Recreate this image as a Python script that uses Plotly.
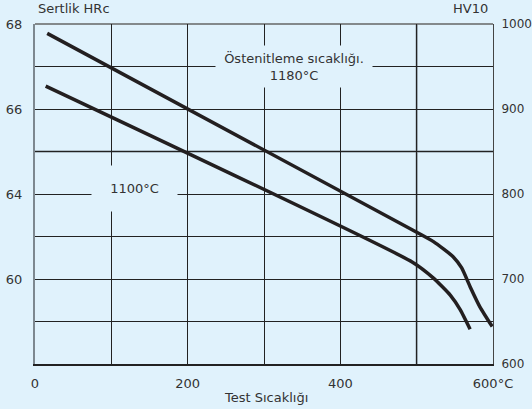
import plotly.graph_objects as go

# Data (x: test temperature °C, y: hardness HV10)
x_1180 = [16, 494, 522, 548, 559, 570, 583, 599]
y_1180 = [989, 758, 744, 726, 713, 691, 667, 644]
x_1100 = [14, 494, 522, 544, 557, 570]
y_1100 = [927, 720, 701, 681, 664, 641]

x_ticks = [0, 100, 200, 300, 400, 500, 600]
x_ticktext = ["0", "", "200", "", "400", "", "600°C"]
y_ticks = [600, 650, 700, 750, 800, 850, 900, 950, 1000]
hrc_ticktext = ["", "", "60", "", "64", "", "66", "", "68"]
hv_ticks = [600, 700, 800, 900, 1000]
hv_ticktext = ["600", "700", "800", "900", "1000"]

BG = "#e0f2fc"
INK = "#231f20"
TXT = "#333333"
GRID = "#222222"
GRAY = "#7d8890"
FONT = "DejaVu Sans"

fig = go.Figure()
line_style = dict(color=INK, width=3.5, shape="spline", smoothing=0.5)
fig.add_trace(go.Scatter(x=x_1180, y=y_1180, mode="lines", line=line_style,
                         showlegend=False, hoverinfo="skip"))
fig.add_trace(go.Scatter(x=x_1100, y=y_1100, mode="lines", line=line_style,
                         showlegend=False, hoverinfo="skip"))
# invisible trace to activate right axis
fig.add_trace(go.Scatter(x=[None], y=[None], yaxis="y2", showlegend=False))

fig.update_layout(
    width=532, height=409,
    margin=dict(l=35, r=39, t=24, b=45),
    paper_bgcolor=BG, plot_bgcolor=BG,
    font=dict(family=FONT, size=13, color=TXT),
    xaxis=dict(range=[0, 600], tickvals=x_ticks, ticktext=x_ticktext,
               showgrid=True, gridcolor=GRID, gridwidth=1, zeroline=False,
               showline=True, linecolor=GRID, linewidth=2, ticks="",
               ticklabelstandoff=6, automargin=False),
    yaxis=dict(range=[600, 1000], tickvals=y_ticks, ticktext=hrc_ticktext,
               showgrid=True, gridcolor=GRID, gridwidth=1, zeroline=False,
               showline=True, linecolor=GRAY, linewidth=2, ticks="",
               ticklabelstandoff=8, automargin=False),
    yaxis2=dict(range=[600, 1000], tickvals=hv_ticks, ticktext=hv_ticktext,
                overlaying="y", side="right", showgrid=False, zeroline=False,
                showline=True, linecolor="#444444", linewidth=1, ticks="",
                ticklabelstandoff=5, automargin=False,
                tickfont=dict(size=12)),
    shapes=[
        dict(type="line", xref="x", yref="paper", x0=500, x1=500, y0=0, y1=1,
             line=dict(color=GRAY, width=2), layer="between"),
        dict(type="line", xref="paper", yref="y", x0=0, x1=1, y0=850, y1=850,
             line=dict(color=GRAY, width=2), layer="between"),
        dict(type="line", xref="paper", yref="paper", x0=0, x1=1, y0=1, y1=1,
             line=dict(color="#666666", width=1.5), layer="between"),
    ],
    annotations=[
        dict(text="Östenitleme sıcaklığı.<br>1180°C", xref="x", yref="y",
             x=339, y=950, showarrow=False, bgcolor=BG, borderpad=0,
             width=156, height=41, font=dict(size=13, color=TXT)),
        dict(text="1100°C", xref="x", yref="y", x=130, y=806, showarrow=False,
             bgcolor=BG, borderpad=0, width=85, height=45,
             font=dict(size=13, color=TXT)),
        dict(text="Sertlik HRc", xref="paper", yref="paper", x=0, y=1,
             xanchor="left", yanchor="bottom", yshift=6, xshift=1,
             showarrow=False),
        dict(text="HV10", xref="paper", yref="paper", x=1, y=1,
             xanchor="right", yanchor="bottom", yshift=6, xshift=-3,
             showarrow=False),
        dict(text="Test Sıcaklığı", xref="paper", yref="paper", x=0.504, y=0,
             xanchor="center", yanchor="top", yshift=-24, showarrow=False),
    ],
)

fig.write_html(
    "out.html",
    config={"displayModeBar": False},
    post_script="document.body.style.margin='0';"
                "document.body.style.background='" + BG + "';",
)
